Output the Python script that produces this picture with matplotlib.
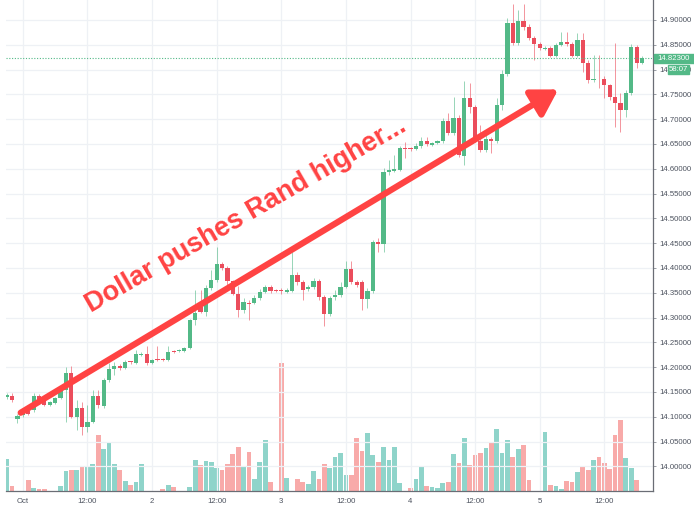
import numpy as np
import matplotlib.pyplot as plt
from matplotlib.patches import Rectangle

plt.rcParams['font.family'] = ['Liberation Sans', 'DejaVu Sans']

# hourly USD/ZAR candles, first one is Sep 30 21:00 (hour -3 from Oct 1 00:00)
first_hour = -3
opens = [
    14.140, 14.142, 14.095, 14.104, 14.112, 14.114, 14.142, 14.132, 14.123, 14.127,
    14.138, 14.154, 14.189, 14.099, 14.118, 14.080, 14.090, 14.142, 14.121, 14.175,
    14.196, 14.202, 14.199, 14.211, 14.209, 14.225, 14.227, 14.209, 14.217, 14.216,
    14.215, 14.233, 14.232, 14.233, 14.238, 14.295, 14.322, 14.311, 14.360, 14.376,
    14.407, 14.399, 14.374, 14.348, 14.315, 14.330, 14.330, 14.340, 14.352, 14.361,
    14.356, 14.356, 14.352, 14.354, 14.386, 14.371, 14.358, 14.362, 14.374, 14.341,
    14.307, 14.342, 14.345, 14.362, 14.398, 14.371, 14.371, 14.337, 14.354, 14.453,
    14.448, 14.593, 14.596, 14.598, 14.641, 14.641, 14.640, 14.645, 14.656, 14.648,
    14.651, 14.655, 14.697, 14.672, 14.702, 14.626, 14.742, 14.724, 14.655, 14.638,
    14.660, 14.655, 14.729, 14.791, 14.893, 14.853, 14.897, 14.885, 14.863, 14.852,
    14.842, 14.843, 14.827, 14.850, 14.855, 14.851, 14.828, 14.860, 14.813, 14.778,
    14.782, 14.782, 14.768, 14.744, 14.733, 14.719, 14.753, 14.846, 14.813]
closes = [
    14.144, 14.133, 14.102, 14.110, 14.106, 14.142, 14.131, 14.123, 14.129, 14.138,
    14.151, 14.189, 14.099, 14.118, 14.080, 14.090, 14.142, 14.123, 14.175, 14.196,
    14.202, 14.199, 14.211, 14.210, 14.227, 14.227, 14.209, 14.215, 14.215, 14.215,
    14.231, 14.231, 14.234, 14.238, 14.295, 14.310, 14.312, 14.360, 14.376, 14.407,
    14.399, 14.374, 14.348, 14.315, 14.332, 14.328, 14.340, 14.352, 14.361, 14.354,
    14.354, 14.354, 14.356, 14.386, 14.371, 14.356, 14.362, 14.374, 14.341, 14.307,
    14.339, 14.345, 14.362, 14.398, 14.371, 14.366, 14.337, 14.354, 14.453, 14.448,
    14.593, 14.598, 14.600, 14.641, 14.640, 14.639, 14.645, 14.656, 14.650, 14.651,
    14.655, 14.697, 14.672, 14.702, 14.628, 14.742, 14.724, 14.658, 14.638, 14.660,
    14.655, 14.729, 14.791, 14.893, 14.853, 14.897, 14.885, 14.863, 14.852, 14.843,
    14.843, 14.827, 14.850, 14.855, 14.851, 14.828, 14.860, 14.813, 14.779, 14.782,
    14.780, 14.768, 14.744, 14.733, 14.719, 14.753, 14.846, 14.813, 14.823]
highs = [
    14.148, 14.148, 14.106, 14.114, 14.114, 14.148, 14.146, 14.134, 14.132, 14.140,
    14.153, 14.201, 14.202, 14.134, 14.130, 14.123, 14.154, 14.154, 14.179, 14.209,
    14.211, 14.207, 14.214, 14.213, 14.235, 14.230, 14.243, 14.217, 14.243, 14.219,
    14.243, 14.235, 14.236, 14.240, 14.298, 14.356, 14.356, 14.365, 14.396, 14.443,
    14.412, 14.404, 14.376, 14.363, 14.340, 14.335, 14.345, 14.357, 14.365, 14.365,
    14.358, 14.360, 14.359, 14.433, 14.392, 14.376, 14.366, 14.379, 14.378, 14.346,
    14.343, 14.355, 14.372, 14.413, 14.414, 14.375, 14.376, 14.359, 14.456, 14.460,
    14.602, 14.618, 14.628, 14.646, 14.654, 14.644, 14.652, 14.665, 14.664, 14.654,
    14.657, 14.702, 14.712, 14.745, 14.708, 14.776, 14.772, 14.729, 14.688, 14.668,
    14.664, 14.742, 14.799, 14.903, 14.932, 14.920, 14.932, 14.892, 14.868, 14.856,
    14.847, 14.848, 14.854, 14.876, 14.876, 14.856, 14.874, 14.873, 14.819, 14.829,
    14.829, 14.787, 14.771, 14.853, 14.753, 14.759, 14.852, 14.850, 14.827]
lows = [
    14.136, 14.130, 14.088, 14.100, 14.103, 14.110, 14.126, 14.121, 14.121, 14.125,
    14.136, 14.090, 14.098, 14.073, 14.063, 14.069, 14.088, 14.117, 14.117, 14.171,
    14.184, 14.194, 14.197, 14.207, 14.207, 14.222, 14.205, 14.207, 14.213, 14.212,
    14.213, 14.228, 14.230, 14.231, 14.236, 14.285, 14.309, 14.304, 14.355, 14.372,
    14.395, 14.356, 14.345, 14.302, 14.309, 14.295, 14.327, 14.336, 14.349, 14.350,
    14.351, 14.348, 14.350, 14.351, 14.366, 14.335, 14.353, 14.357, 14.335, 14.282,
    14.303, 14.335, 14.341, 14.360, 14.367, 14.361, 14.315, 14.319, 14.349, 14.433,
    14.433, 14.587, 14.593, 14.596, 14.621, 14.636, 14.638, 14.642, 14.646, 14.646,
    14.649, 14.652, 14.668, 14.668, 14.624, 14.608, 14.712, 14.654, 14.634, 14.634,
    14.631, 14.652, 14.719, 14.787, 14.849, 14.849, 14.880, 14.860, 14.819, 14.840,
    14.839, 14.825, 14.825, 14.848, 14.848, 14.825, 14.825, 14.796, 14.772, 14.775,
    14.762, 14.742, 14.739, 14.685, 14.675, 14.705, 14.749, 14.803, 14.811]
volumes = [
    32, 5, 0, 0, 11, 3, 2, 2, 0, 0,
    5, 20, 21, 21, 25, 24, 27, 56, 42, 48,
    27, 21, 10, 6, 9, 27, 0, 0, 0, 2,
    6, 4, 0, 0, 4, 31, 26, 30, 29, 23,
    21, 27, 37, 44, 25, 39, 12, 29, 51, 9,
    0, 128, 13, 0, 12, 9, 7, 20, 12, 27,
    23, 34, 38, 16, 16, 53, 40, 58, 36, 29,
    44, 31, 44, 8, 0, 3, 12, 25, 5, 4,
    3, 8, 9, 37, 28, 53, 26, 36, 38, 43,
    49, 62, 38, 51, 34, 42, 46, 11, 0, 0,
    59, 6, 5, 2, 10, 9, 19, 25, 21, 31,
    34, 28, 22, 56, 71, 33, 23, 11, 0]

tick_hours = [0, 12, 24, 36, 48, 60, 72, 84, 96, 108]
tick_labels = ['Oct', '12:00', '2', '12:00', '3', '12:00', '4', '12:00', '5', '12:00']
countdown = '58:07'
note = 'Dollar pushes Rand higher...'

UP, DOWN = '#53b987', '#eb4d5c'
UP_VOL, DOWN_VOL = '#8fd4ca', '#f8aaa9'
ARROW = '#ff4343'
TXT = '#4c525e'

o = np.array(opens)
c = np.array(closes)
h = np.array(highs)
l = np.array(lows)
hours = np.arange(len(o)) + first_hour
up = c >= o

fig = plt.figure(figsize=(6.94, 5.13), dpi=100)
rect = [6 / 694, 22 / 513, 647 / 694, 491 / 513]
ax_v = fig.add_axes(rect)
ax = fig.add_axes(rect, sharex=ax_v)
ax.patch.set_alpha(0)

# volume underneath
ax_v.bar(hours, volumes, width=0.88, color=np.where(up, UP_VOL, DOWN_VOL))
ax_v.set_ylim(0, 491)
ax_v.axis('off')

# candles
ax.vlines(hours, l, h, colors=np.where(up, UP, DOWN), lw=0.7, alpha=0.6)
body = np.maximum(np.abs(c - o), 0.0016)
ax.bar(hours, body, bottom=np.minimum(o, c), width=0.78,
       color=np.where(up, UP, DOWN))

ax.set_xlim(-3.13, 117.04)
ax.set_ylim(13.9502, 14.9403)
ax.set_yticks(np.arange(14.0, 14.901, 0.05))
ax.yaxis.tick_right()
ax.yaxis.set_major_formatter(plt.FuncFormatter(lambda v, p: f'{v:.5f}'))
ax.set_xticks(tick_hours)
ax.set_xticklabels(tick_labels)
ax.tick_params(axis='both', labelsize=5.6, colors=TXT, length=2.5, width=0.6)
ax.tick_params(axis='x', length=0, pad=5)
ax.tick_params(axis='y', pad=2, colors='#8a8e96', labelcolor=TXT)
ax.grid(True, color='#eef1f5', lw=0.9)
ax.set_axisbelow(True)
for s in ['top', 'left']:
    ax.spines[s].set_visible(False)
for s in ['right', 'bottom']:
    ax.spines[s].set_color('#6a6d75')
    ax.spines[s].set_linewidth(0.9)

# last price line
ax.axhline(c[-1], color=UP, lw=0.8, ls=(0, (1, 1.5)))

# annotation arrow + text
ax.annotate('', xy=(99.45, 14.760), xytext=(-0.4, 14.108),
            arrowprops=dict(arrowstyle='-|>,head_length=0.7,head_width=0.42',
                            mutation_scale=22, lw=4.5, color=ARROW,
                            shrinkA=0, shrinkB=0))
ax.text(12.7, 14.309, note, rotation=30, rotation_mode='anchor',
        ha='left', va='baseline', fontsize=19.5, fontweight='bold',
        color=ARROW)

# price tag and countdown on the right scale
fig.patches.append(Rectangle((654 / 694, 1 - 62.5 / 513), 40 / 694, 8.5 / 513,
                             transform=fig.transFigure, color=UP))
fig.text(657.5 / 694, 1 - 58.3 / 513, f'{c[-1]:.5f}', color='white',
         fontsize=5.6, ha='left', va='center')
fig.patches.append(Rectangle((668 / 694, 1 - 74 / 513), 21 / 694, 9 / 513,
                             transform=fig.transFigure, color=UP))
fig.text(678.5 / 694, 1 - 69.5 / 513, countdown, color='white',
         fontsize=5.6, ha='center', va='center')

fig.savefig('out.png', dpi=100)
